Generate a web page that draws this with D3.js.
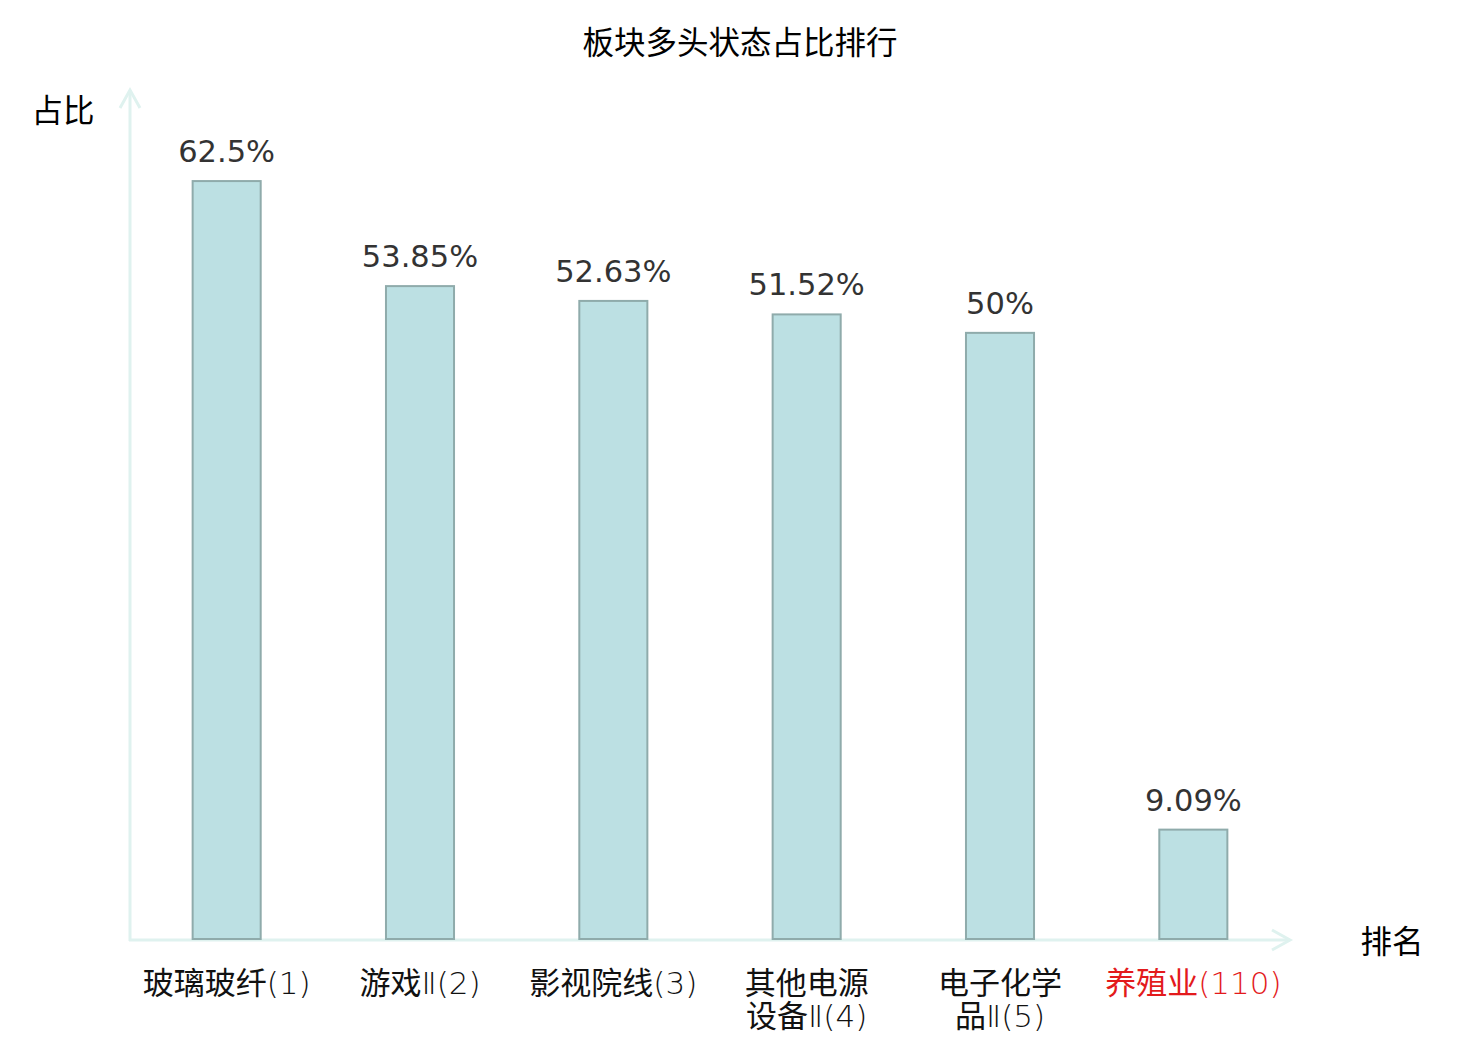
<!DOCTYPE html>
<html>
<head>
<meta charset="utf-8">
<script src="https://cdn.jsdelivr.net/npm/d3@7"></script>
<style>
  body { margin: 0; background: #fff; }
  svg { display: block; }
</style>
</head>
<body>
<script>
// data
const categories = ['玻璃玻纤(1)', '游戏Ⅱ(2)', '影视院线(3)', '其他电源\n设备Ⅱ(4)', '电子化学\n品Ⅱ(5)', '养殖业(110)'];
const values = [62.5, 53.85, 52.63, 51.52, 50, 9.09];
const valueLabels = ['62.5%', '53.85%', '52.63%', '51.52%', '50%', '9.09%'];
const highlight = [false, false, false, false, false, true];

const W = 1480, H = 1040;
const x0 = 130, x1 = 1290, yBase = 940, yTop = 90;
const cjk = '"Noto Sans CJK SC", "Noto Sans", sans-serif';
const latin = '"DejaVu Sans", sans-serif';

const svg = d3.select('body').append('svg')
    .attr('width', W)
    .attr('height', H);

const x = d3.scaleBand()
    .domain(d3.range(categories.length))
    .range([x0, x1]);

const y = d3.scaleLinear()
    .domain([0, 70])
    .range([yBase, yTop]);

const bw = x.bandwidth() * 0.352;

// title
svg.append('text')
    .attr('x', W / 2)
    .attr('y', 54)
    .attr('text-anchor', 'middle')
    .attr('font-family', cjk)
    .attr('font-size', 31.5)
    .attr('fill', '#000')
    .text('板块多头状态占比排行');

// axes
const axisColor = '#dff2ef';
svg.append('line')
    .attr('x1', x0).attr('y1', yBase + 1)
    .attr('x2', x0).attr('y2', yTop)
    .attr('stroke', axisColor).attr('stroke-width', 3);
svg.append('path')
    .attr('d', `M${x0 - 10},${yTop + 18} L${x0},${yTop} L${x0 + 10},${yTop + 18}`)
    .attr('fill', 'none').attr('stroke', axisColor).attr('stroke-width', 3);
svg.append('line')
    .attr('x1', x0 - 1).attr('y1', yBase)
    .attr('x2', x1).attr('y2', yBase)
    .attr('stroke', axisColor).attr('stroke-width', 3);
svg.append('path')
    .attr('d', `M${x1 - 18},${yBase - 10} L${x1},${yBase} L${x1 - 18},${yBase + 10}`)
    .attr('fill', 'none').attr('stroke', axisColor).attr('stroke-width', 3);

svg.append('text')
    .attr('x', 63).attr('y', 122)
    .attr('text-anchor', 'middle')
    .attr('font-family', cjk).attr('font-size', 31.5)
    .text('占比');
svg.append('text')
    .attr('x', 1392).attr('y', 953)
    .attr('text-anchor', 'middle')
    .attr('font-family', cjk).attr('font-size', 31.5)
    .text('排名');

// bars
const g = svg.append('g');
g.selectAll('rect')
    .data(values)
    .enter()
    .append('rect')
    .attr('x', (d, i) => x(i) + x.bandwidth() / 2 - bw / 2)
    .attr('y', d => y(d))
    .attr('width', bw)
    .attr('height', d => yBase - y(d) - 1)
    .attr('fill', '#bce0e3')
    .attr('stroke', '#8fabab')
    .attr('stroke-width', 2);

g.selectAll('text.val')
    .data(values)
    .enter()
    .append('text')
    .attr('class', 'val')
    .attr('x', (d, i) => x(i) + x.bandwidth() / 2)
    .attr('y', d => y(d) - 19)
    .attr('text-anchor', 'middle')
    .attr('font-family', latin)
    .attr('font-size', 30.5)
    .attr('fill', '#333')
    .text((d, i) => valueLabels[i]);

// category labels: CJK runs in the CJK font, the rest thin
const lab = svg.append('g').selectAll('text')
    .data(categories)
    .enter()
    .append('text')
    .attr('text-anchor', 'middle')
    .attr('font-size', 31)
    .attr('fill', (d, i) => highlight[i] ? '#e31a1c' : '#111');

lab.each(function (d, i) {
    const t = d3.select(this);
    d.split('\n').forEach((line, j) => {
        const runs = line.match(/[\u4e00-\u9fff]+|[^\u4e00-\u9fff]+/g);
        runs.forEach((run, k) => {
            const isCjk = /[\u4e00-\u9fff]/.test(run);
            const s = t.append('tspan')
                .attr('font-family', isCjk ? cjk : latin)
                .attr('font-weight', isCjk ? 400 : 200)
                .text(run);
            if (k === 0) s.attr('x', x(i) + x.bandwidth() / 2).attr('y', 994 + j * 33);
        });
    });
});
</script>
</body>
</html>
